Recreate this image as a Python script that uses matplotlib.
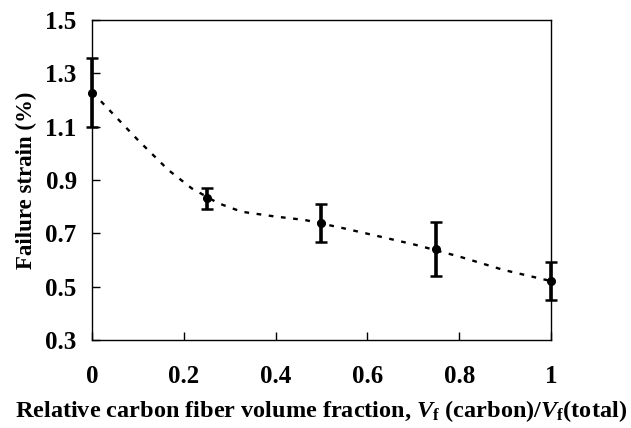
import matplotlib
matplotlib.use("Agg")
import matplotlib.pyplot as plt

# measured points (carbon fraction vs failure strain)
carbon_fraction = [0.0, 0.25, 0.5, 0.75, 1.0]
failure_strain = [1.227, 0.831, 0.740, 0.641, 0.521]
strain_err = [0.13, 0.04, 0.071, 0.10, 0.07]

# dotted trend curve
trend_x = [0.0, 0.013, 0.10, 0.166, 0.217, 0.275, 0.326, 0.399, 0.464,
           0.548, 0.627, 0.707, 0.802, 0.896, 1.0]
trend_y = [1.227, 1.207, 1.05, 0.938, 0.869, 0.813, 0.781, 0.763, 0.75,
           0.719, 0.688, 0.656, 0.612, 0.563, 0.521]

plt.rcParams["font.family"] = ["Liberation Serif", "DejaVu Serif"]
plt.rcParams["font.weight"] = "bold"
plt.rcParams["mathtext.fontset"] = "custom"
plt.rcParams["mathtext.rm"] = "Liberation Serif:bold"
plt.rcParams["mathtext.it"] = "Liberation Serif:italic:bold"
plt.rcParams["mathtext.bf"] = "Liberation Serif:bold"

fig = plt.figure(figsize=(6.31, 4.28), dpi=100)
ax = fig.add_axes([0.1458, 0.2056, 0.7274, 0.7477])

ax.plot(trend_x, trend_y, color="black", linewidth=1.7, linestyle=(0, (2, 3.2)))
ax.errorbar(carbon_fraction, failure_strain, yerr=strain_err, fmt="o",
            color="black", markersize=5.5, elinewidth=2.6, capsize=4,
            capthick=1.8, clip_on=False, zorder=3)

ax.set_xlim(0, 1)
ax.set_ylim(0.3, 1.5)
ax.set_xticks([0, 0.2, 0.4, 0.6, 0.8, 1.0])
ax.set_xticklabels(["0", "0.2", "0.4", "0.6", "0.8", "1"])
ax.set_yticks([0.3, 0.5, 0.7, 0.9, 1.1, 1.3, 1.5])
ax.set_yticklabels(["0.3", "0.5", "0.7", "0.9", "1.1", "1.3", "1.5"])
ax.tick_params(direction="in", length=6, width=1, labelsize=18)
ax.tick_params(axis="x", pad=18)
ax.tick_params(axis="y", pad=11)
for s in ax.spines.values():
    s.set_linewidth(1.0)

ax.set_ylabel("Failure strain (%)", fontsize=16.5, fontweight="bold", labelpad=6)
ax.set_xlabel(r"Relative carbon fiber volume fraction, $V_{\rm f}$ (carbon)/$V_{\rm f}$(total)",
              fontsize=17.5, fontweight="bold", labelpad=7)

fig.savefig("out.png", dpi=100)
